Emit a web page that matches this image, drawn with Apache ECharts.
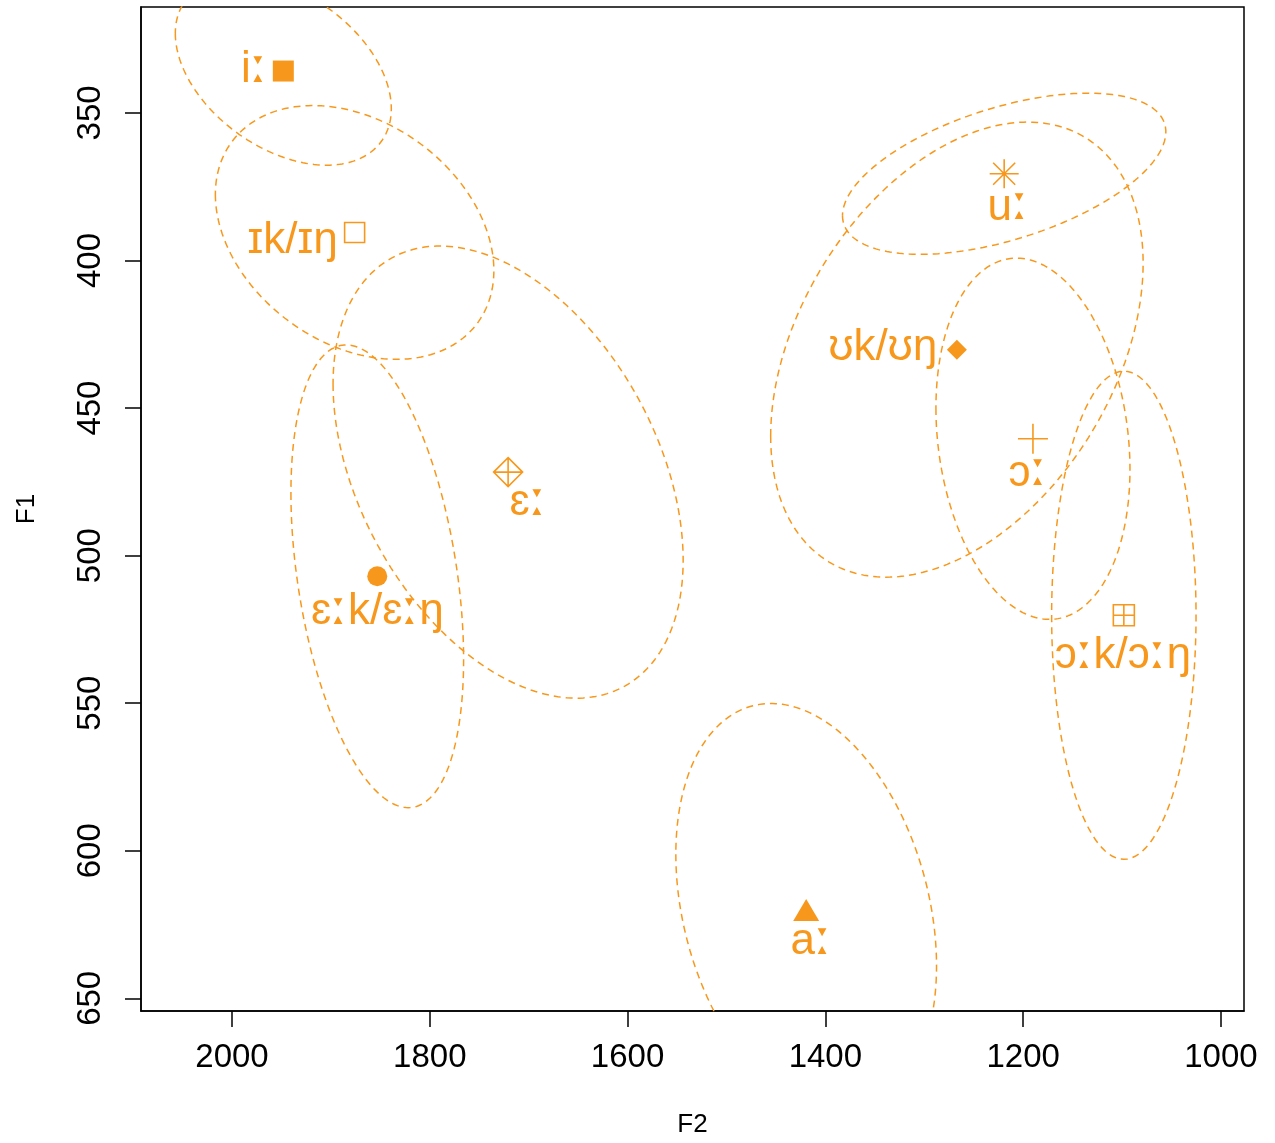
<!DOCTYPE html>
<html>
<head>
<meta charset="utf-8">
<script src="https://cdn.jsdelivr.net/npm/echarts@6/dist/echarts.min.js"></script>
<style>
  html, body { margin: 0; background: #fff; }
  #chart { width: 1275px; height: 1143px; }
</style>
</head>
<body>
<div id="chart"></div>
<script>
// vowel categories, their mean formants (Hz) and the spread of each ellipse
const vowels = ['iː', 'ɪk/ɪŋ', 'ɛː', 'ɛːk/ɛːŋ', 'aː', 'uː', 'ʊk/ʊŋ', 'ɔː', 'ɔːk/ɔːŋ'];
const meanF2 = [1948.1, 1876.0, 1720.8, 1853.1, 1419.4, 1219.2, 1267.0, 1190.1, 1098.2];
const meanF1 = [335.8, 390.5, 471.7, 507.0, 620.1, 370.6, 430.2, 460.4, 520.2];
const radiusF2 = [109.2, 140.8, 177.0, 87.3, 131.8, 163.5, 188.3, 98.1, 73.0];
const radiusF1 = [31.9, 43.0, 76.6, 78.4, 70.0, 27.3, 77.1, 61.2, 82.7];
const corrF2F1 = [-0.40, -0.30, -0.39, -0.36, -0.27, 0.52, 0.38, -0.17, 0.0];

const xTicks = [2000, 1800, 1600, 1400, 1200, 1000];
const yTicks = [350, 400, 450, 500, 550, 600, 650];

// styles
const ORANGE = '#F7981D';
const FONT = "'Liberation Sans', Arial, Helvetica, sans-serif";
// R pch 15, 0, 9, 16, 17, 8, 18, 3, 12
const markerSymbol = [
  'rect',
  'rect',
  'path://M5,0L10,5L5,10L0,5ZM5,0V10M0,5H10',
  'circle',
  'triangle',
  'path://M5,0V10M0,5H10M1.2,1.2L8.8,8.8M1.2,8.8L8.8,1.2',
  'diamond',
  'path://M5,0V10M0,5H10',
  'path://M0,0H10V10H0ZM5,0V10M0,5H10'
];
const markerSize = [21, 20, 29, 20, [26, 22], 29, [20, 20], 30, 21];
const markerFilled = [true, false, false, true, true, false, true, false, false];
const labelOffset = [[-29, -1], [-62, 8], [20, 31], [0, 36], [5, 32], [4, 34], [-74, -2], [-5, 35], [-1, 41]];

function ellipsePoints(i) {
  const phase = Math.acos(corrF2F1[i]);
  const pts = [];
  for (let k = 0; k <= 240; k++) {
    const t = 2 * Math.PI * k / 240;
    pts.push([meanF2[i] + radiusF2[i] * Math.cos(t), meanF1[i] + radiusF1[i] * Math.cos(t - phase)]);
  }
  return pts;
}

const ellipseSeries = vowels.map((v, i) => ({
  name: v + ' ellipse',
  type: 'line',
  data: ellipsePoints(i),
  showSymbol: false,
  symbol: 'none',
  clip: true,
  silent: true,
  z: 1,
  lineStyle: { color: ORANGE, width: 1.5, type: [7, 5] }
}));

// the length mark is drawn with big triangles, as in the original
const labelRich = { len: { fontFamily: "'DejaVu Sans'", fontSize: 50, lineHeight: 44, padding: [0, 0, 3, 0], color: ORANGE } };

const points = vowels.map((v, i) => ({
  value: [meanF2[i], meanF1[i]],
  symbol: markerSymbol[i],
  symbolSize: markerSize[i],
  itemStyle: markerFilled[i]
    ? { color: ORANGE, opacity: 1 }
    : { color: 'rgba(0,0,0,0)', borderColor: ORANGE, borderWidth: 1.6, opacity: 1 },
  label: {
    show: true,
    formatter: v.replace(/ː/g, '{len|ː}'),
    rich: labelRich,
    position: 'inside',
    offset: labelOffset[i],
    align: 'center',
    verticalAlign: 'middle',
    color: ORANGE,
    fontSize: 44,
    lineHeight: 44,
    fontFamily: FONT
  }
}));

const chart = echarts.init(document.getElementById('chart'));
chart.setOption({
  animation: false,
  backgroundColor: '#fff',
  grid: { left: 141, right: 31, top: 7, bottom: 131, show: true, borderColor: '#000', borderWidth: 1.5 },
  xAxis: {
    type: 'value', inverse: true, min: 976.7, max: 2092,
    name: 'F2', nameLocation: 'middle', nameGap: 101,
    nameTextStyle: { fontSize: 26, color: '#000', fontFamily: FONT },
    axisLine: { show: true, lineStyle: { color: '#000', width: 1.5 } },
    splitLine: { show: false },
    axisTick: { show: true, length: 16, customValues: xTicks, lineStyle: { color: '#000', width: 1.5 } },
    axisLabel: { customValues: xTicks, formatter: v => String(v), margin: 30, fontSize: 33, color: '#000', fontFamily: FONT }
  },
  yAxis: {
    type: 'value', inverse: true, min: 314.1, max: 654.3,
    name: 'F1', nameLocation: 'middle', nameGap: 101, nameRotate: 90,
    nameTextStyle: { fontSize: 26, color: '#000', fontFamily: FONT },
    axisLine: { show: true, lineStyle: { color: '#000', width: 1.5 } },
    splitLine: { show: false },
    axisTick: { show: true, length: 16, customValues: yTicks, lineStyle: { color: '#000', width: 1.5 } },
    axisLabel: { customValues: yTicks, formatter: v => String(v), rotate: 90, margin: 34, fontSize: 33, color: '#000', fontFamily: FONT }
  },
  series: ellipseSeries.concat([{
    name: 'means',
    type: 'scatter',
    data: points,
    z: 3,
    itemStyle: { opacity: 1 },
    emphasis: { disabled: true }
  }])
});
</script>
</body>
</html>
